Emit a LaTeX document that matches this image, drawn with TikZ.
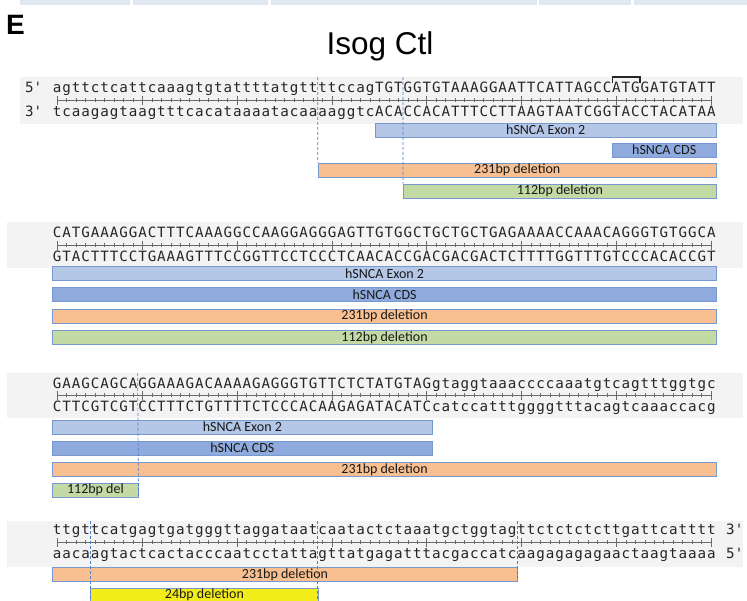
\documentclass[tikz,border=0pt]{standalone}
\usepackage{fontspec}
\setmainfont{Liberation Sans}
\newfontfamily\seqfont{DejaVu Sans Mono}
\newfontfamily\barfont{Carlito}

% one fixed-width cell per base
\newlength\basecell
\setlength\basecell{9.48pt}
\def\bases#1{\basestep#1\relax}
\def\basestep#1{\ifx#1\relax\else\makebox[\basecell]{#1}\expandafter\basestep\fi}

\definecolor{panelgray}{HTML}{F3F3F3}
\definecolor{stripblue}{HTML}{DFE7F1}
\definecolor{exonfill}{HTML}{B4C7E7}
\definecolor{cdsfill}{HTML}{8FAADC}
\definecolor{delorange}{HTML}{F8C091}
\definecolor{delgreen}{HTML}{C3DAA5}
\definecolor{delyellow}{HTML}{F2EC1A}
\definecolor{baredge}{HTML}{7898D0}
\definecolor{guideblue}{HTML}{4F7FCB}
\definecolor{rulergray}{HTML}{6A6A6A}

\tikzset{
  strand/.style={inner sep=0pt, anchor=base west, font=\seqfont\fontsize{14.2}{14.2}\selectfont, text=black!85},
  endlabel/.style={inner sep=0pt, anchor=base west, font=\seqfont\fontsize{14.2}{14.2}\selectfont, text=black!85},
  featbar/.style={draw=baredge, line width=0.9pt, fill=#1, inner sep=0pt, minimum height=14pt,
    anchor=west, font=\barfont\fontsize{14}{14}\selectfont, text=black!90},
  guide/.style={draw=guideblue, line width=0.7pt, dash pattern=on 3pt off 2pt},
  rulerline/.style={draw=rulergray, line width=0.6pt},
  panel/.style={fill=panelgray, draw=none},
}

% ruler under the top strand: line, a tick per base, long ticks every ten
\newcommand\baseruler[1]{%
  \draw[rulerline] (57.04,#1) -- (711.16,#1);
  \foreach \k in {1,...,70}{
    \draw[rulerline] ({52.3+9.48*(\k-0.5)},#1-2) -- ({52.3+9.48*(\k-0.5)},#1+2);
  }
  \foreach \k in {1,10,20,30,40,50,60,70}{
    \draw[rulerline] ({52.3+9.48*(\k-0.5)},#1-4.5) -- ({52.3+9.48*(\k-0.5)},#1+4.5);
  }
}

% feature bar: name, first base, last base, centre y, fill, label
\newcommand\feature[6]{%
  \pgfmathsetmacro\featxa{52.3+9.48*#2}
  \pgfmathsetmacro\featwd{9.48*(#3-#2)}
  \node[featbar=#5, minimum width=\featwd pt] (#1) at (\featxa,#4) {#6};
}

\begin{document}
\begin{tikzpicture}[x=1pt,y=-1pt]
\useasboundingbox (0,0) rectangle (747,601);
\clip (0,0) rectangle (747,601);
\fill[white] (0,0) rectangle (747,601);

% strip of table cells along the top edge
\foreach \a/\b in {20/130,133/268,271/537,539/631,634/747}{
  \fill[stripblue] (\a,0) rectangle (\b,5);
}

\node[inner sep=0pt, anchor=base west, font=\bfseries\fontsize{28}{28}\selectfont] (panel) at (6,35) {E};
\node[inner sep=0pt, anchor=base, font=\fontsize{31.5}{31.5}\selectfont] (title) at (380,55) {Isog Ctl};

% ---- line 1 ----
\fill[panel] (20,77) rectangle (743,124);
\node[endlabel] (l1five) at (25,93) {5'};
\node[endlabel] (l1three) at (25,117) {3'};
\node[strand] (s1top) at (52.3,93) {\bases{agttctcattcaaagtgtattttatgttttccagTGTGGTGTAAAGGAATTCATTAGCCATGGATGTATT}};
\baseruler{100.5}
\node[strand] (s1bot) at (52.3,117) {\bases{tcaagagtaagtttcacataaaatacaaaaggtcACACCACATTTCCTTAAGTAATCGGTACCTACATAA}};
\draw[line width=1.1pt, black!85] (612.5,83) -- (612.5,77) -- (640,77) -- (640,83);
\feature{f1exon}{34}{70}{130}{exonfill}{hSNCA Exon 2}
\feature{f1cds}{59}{70}{150}{cdsfill}{hSNCA CDS}
\feature{f1big}{28}{70}{170}{delorange}{231bp deletion}
\feature{f1small}{37}{70}{191}{delgreen}{112bp deletion}
\draw[guide] (317.74,77) -- (f1big.north west);
\draw[guide] (403.06,77) -- (f1small.north west);

% ---- line 2 ----
\fill[panel] (7,222) rectangle (743,268);
\node[strand] (s2top) at (52.3,238) {\bases{CATGAAAGGACTTTCAAAGGCCAAGGAGGGAGTTGTGGCTGCTGCTGAGAAAACCAAACAGGGTGTGGCA}};
\baseruler{245.5}
\node[strand] (s2bot) at (52.3,261.5) {\bases{GTACTTTCCTGAAAGTTTCCGGTTCCTCCCTCAACACCGACGACGACTCTTTTGGTTTGTCCCACACCGT}};
\feature{f2exon}{0}{70}{273.5}{exonfill}{hSNCA Exon 2}
\feature{f2cds}{0}{70}{294.5}{cdsfill}{hSNCA CDS}
\feature{f2big}{0}{70}{316}{delorange}{231bp deletion}
\feature{f2small}{0}{70}{337.5}{delgreen}{112bp deletion}

% ---- line 3 ----
\fill[panel] (7,373) rectangle (743,418);
\node[strand] (s3top) at (52.3,388.5) {\bases{GAAGCAGCAGGAAAGACAAAAGAGGGTGTTCTCTATGTAGgtaggtaaaccccaaatgtcagtttggtgc}};
\baseruler{395.5}
\node[strand] (s3bot) at (52.3,411) {\bases{CTTCGTCGTCCTTTCTGTTTTCTCCCACAAGAGATACATCcatccatttggggtttacagtcaaaccacg}};
\feature{f3exon}{0}{40}{427}{exonfill}{hSNCA Exon 2}
\feature{f3cds}{0}{40}{448}{cdsfill}{hSNCA CDS}
\feature{f3big}{0}{70}{469.5}{delorange}{231bp deletion}
\feature{f3small}{0}{9}{490}{delgreen}{112bp del}
\draw[guide] (137.62,373) -- (f3small.south east);

% ---- line 4 ----
\fill[panel] (7,521) rectangle (743,567);
\node[strand] (s4top) at (52.3,534.5) {\bases{ttgttcatgagtgatgggttaggataatcaatactctaaatgctggtagttctctctcttgattcatttt}};
\baseruler{542}
\node[strand] (s4bot) at (52.3,558) {\bases{aacaagtactcactacccaatcctattagttatgagatttacgaccatcaagagagagaactaagtaaaa}};
\node[endlabel] (l4three) at (726,534.5) {3'};
\node[endlabel] (l4five) at (726,558) {5'};
\feature{f4big}{0}{49}{574.5}{delorange}{231bp deletion}
\feature{f4tiny}{4}{28}{595}{delyellow}{24bp deletion}
\draw[guide] (90.22,521) -- (90.22,605);
\draw[guide] (317.74,521) -- (317.74,605);
\draw[guide] (f4big.north east |- 0,521) -- (f4big.south east);
\end{tikzpicture}
\end{document}
